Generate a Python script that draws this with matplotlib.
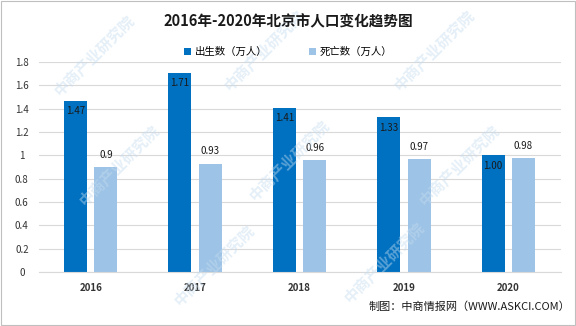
import matplotlib

matplotlib.use("Agg")
import matplotlib.pyplot as plt
import numpy as np

plt.rcParams["font.family"] = ["Noto Sans CJK SC", "DejaVu Sans"]

years = ["2016", "2017", "2018", "2019", "2020"]
births = [1.47, 1.71, 1.41, 1.33, 1.00]
deaths = [0.9, 0.93, 0.96, 0.97, 0.98]
birth_labels = ["1.47", "1.71", "1.41", "1.33", "1.00"]
death_labels = ["0.9", "0.93", "0.96", "0.97", "0.98"]
yticks = [0, 0.2, 0.4, 0.6, 0.8, 1, 1.2, 1.4, 1.6, 1.8]

BLUE = "#0070c0"
LIGHT = "#9dc3e6"

W, H = 576, 326
fig = plt.figure(figsize=(W / 100, H / 100), dpi=100)
ax = fig.add_axes([38.5 / W, 1 - 272 / H, 522 / W, 210 / H])

x = np.arange(len(years))
width = 0.22
offset = 0.145
ax.bar(x - offset, births, width, color=BLUE, label="出生数（万人）", zorder=2)
ax.bar(x + offset, deaths, width, color=LIGHT, label="死亡数（万人）", zorder=2)

for xi, v, s in zip(x, births, birth_labels):
    ax.text(xi - offset, v - 0.05, s, ha="center", va="top", fontsize=7, color="#1a1a1a", zorder=3)
for xi, v, s in zip(x, deaths, death_labels):
    ax.text(xi + offset, v + 0.06, s, ha="center", va="bottom", fontsize=7, color="#1a1a1a", zorder=3)

ax.set_xlim(-0.5, len(years) - 0.5)
ax.set_ylim(0, 1.8)
ax.set_yticks(yticks)
ax.set_yticklabels([f"{t:g}" for t in yticks], fontsize=7, color="#333333")
ax.set_xticks(x)
ax.set_xticklabels(years, fontsize=7, color="#333333", fontweight="bold")
ax.tick_params(length=0, pad=8)
ax.tick_params(axis="y", pad=12)
for lbl in ax.get_yticklabels():
    lbl.set_horizontalalignment("center")
ax.grid(axis="y", color="#d9d9d9", linewidth=0.8, zorder=0)
for side in ["top", "right", "left"]:
    ax.spines[side].set_visible(False)
ax.spines["bottom"].set_color("#d9d9d9")

fig.text(0.5, 1 - 21 / H, "2016年-2020年北京市人口变化趋势图", ha="center", va="center",
         fontsize=10.5, fontweight="bold", color="#1a1a1a")
fig.legend(loc="center", bbox_to_anchor=(0.5, 1 - 52 / H), ncol=2, frameon=False,
           fontsize=7.5, handlelength=0.7, handleheight=0.7, columnspacing=4, handletextpad=0.3)
fig.text(570 / W, 1 - 307 / H, "制图：中商情报网（WWW.ASKCI.COM）", ha="right", va="center",
         fontsize=8, color="#1a1a1a")

# faint diagonal watermark
for wx, wy in [(95, 55), (265, 50), (435, 50), (120, 165), (290, 160), (460, 165),
               (215, 265), (385, 262)]:
    fig.text(wx / W, 1 - wy / H, "中商产业研究院", rotation=45, ha="center", va="center",
             fontsize=11, fontweight="bold", color="#c5dcef", alpha=0.45, zorder=0)

# outer frame
fig.patches.append(plt.Rectangle((0.002, 0.003), 0.996, 0.994, transform=fig.transFigure,
                                 fill=False, edgecolor="#bfbfbf", linewidth=0.8))

fig.savefig("out.png", dpi=100)
